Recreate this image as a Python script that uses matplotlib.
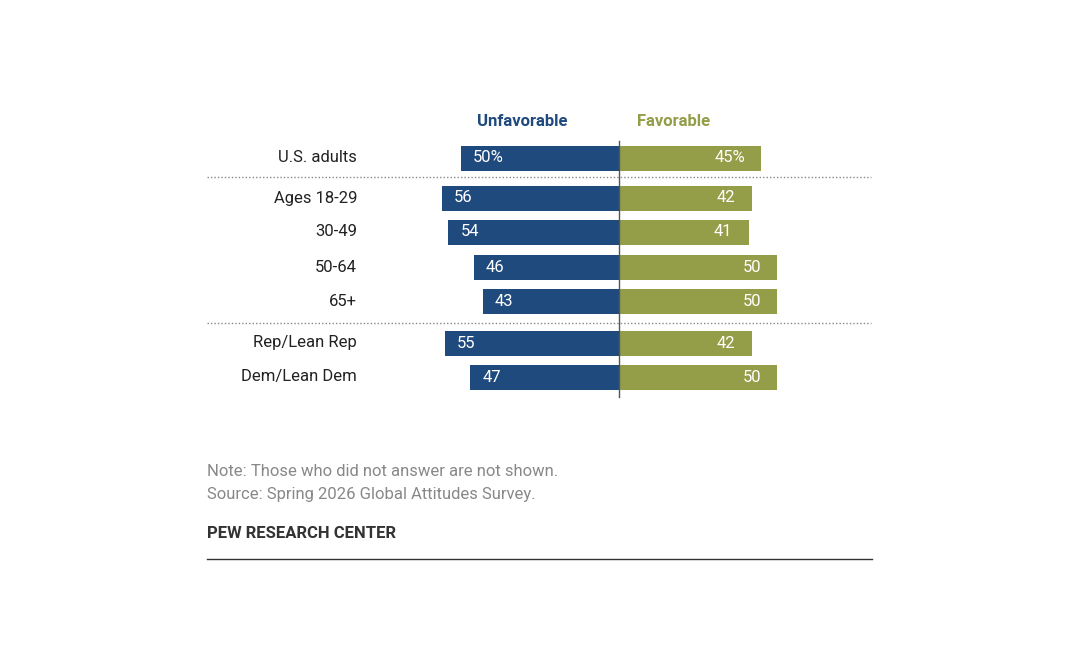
import matplotlib.pyplot as plt

categories = ["U.S. adults", "Ages 18-29", "30-49", "50-64", "65+", "Rep/Lean Rep", "Dem/Lean Dem"]
unfavorable = [50, 56, 54, 46, 43, 55, 47]
favorable = [45, 42, 41, 50, 50, 42, 50]
row_y = [158, 198, 232, 267, 301, 343, 377]  # pixel rows

navy = "#1f4a7d"
olive = "#949d48"
PX = 3.16  # pixels per percentage point
X0 = 619   # pixel x of the zero line

plt.rcParams['font.family'] = ['Roboto', 'DejaVu Sans']

fig = plt.figure(figsize=(10.8, 6.5), dpi=100)
ax = fig.add_axes([0, 0, 1, 1])
ax.set_xlim(-X0 / PX, (1080 - X0) / PX)
ax.set_ylim(650, 0)
ax.axis("off")


def px(x):
    return (x - X0) / PX


ax.barh(row_y, [-v for v in unfavorable], height=25, color=navy)
ax.barh(row_y, favorable, height=25, color=olive)

for i, (cat, u, f, y) in enumerate(zip(categories, unfavorable, favorable, row_y)):
    ax.text(px(357), y, cat, ha="right", va="center", fontsize=12, color="#222222")
    us = f"{u}%" if i == 0 else str(u)
    fs = f"{f}%" if i == 0 else str(f)
    ax.text(-u + 10 / PX * 1.2, y, us, ha="left", va="center", fontsize=12, color="white")
    ax.text(f - 10 / PX * 1.6, y, fs, ha="right", va="center", fontsize=12, color="white")

ax.plot([0, 0], [141, 397], color="#555555", lw=1)
for yy in (177, 323):
    ax.plot([px(207), px(871)], [yy, yy], color="#888888", lw=1, ls=(0, (1, 1.5)))

ax.text(px(522), 121, "Unfavorable", ha="center", va="center", fontsize=12, fontweight="bold", color=navy)
ax.text(px(674), 121, "Favorable", ha="center", va="center", fontsize=12, fontweight="bold", color=olive)

ax.text(px(207), 472, "Note: Those who did not answer are not shown.", ha="left", va="center", fontsize=12, color="#888888")
ax.text(px(207), 495, "Source: Spring 2026 Global Attitudes Survey.", ha="left", va="center", fontsize=12, color="#888888")
ax.text(px(207), 534, "PEW RESEARCH CENTER", ha="left", va="center", fontsize=12, fontweight="bold", color="#333333")
ax.plot([px(207), px(872)], [559, 559], color="#333333", lw=1)

fig.savefig("out.png", dpi=100)
